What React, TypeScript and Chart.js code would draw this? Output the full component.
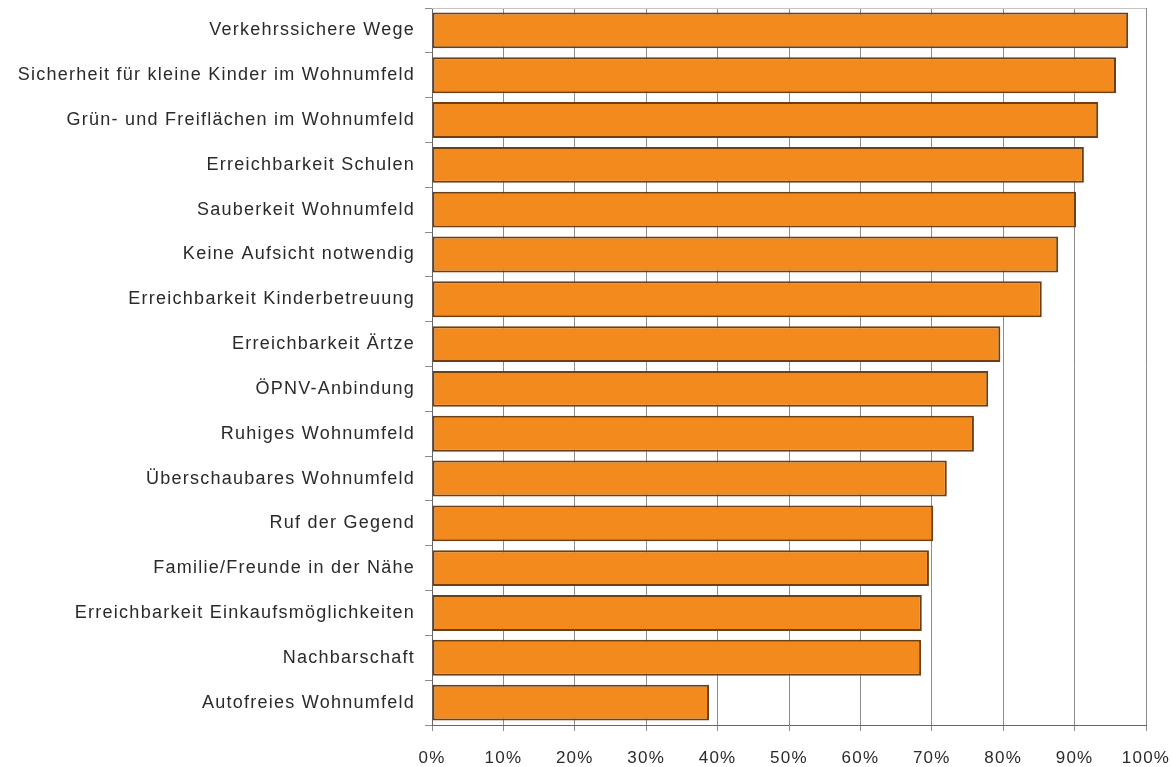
import React, { useEffect, useRef } from "react";
import { Chart, registerables } from "chart.js";

Chart.register(...registerables);

const categories = [
  "Verkehrssichere Wege",
  "Sicherheit für kleine Kinder im Wohnumfeld",
  "Grün- und Freiflächen im Wohnumfeld",
  "Erreichbarkeit Schulen",
  "Sauberkeit Wohnumfeld",
  "Keine Aufsicht notwendig",
  "Erreichbarkeit Kinderbetreuung",
  "Erreichbarkeit Ärtze",
  "ÖPNV-Anbindung",
  "Ruhiges Wohnumfeld",
  "Überschaubares Wohnumfeld",
  "Ruf der Gegend",
  "Familie/Freunde in der Nähe",
  "Erreichbarkeit Einkaufsmöglichkeiten",
  "Nachbarschaft",
  "Autofreies Wohnumfeld",
];

const values = [97.5, 95.8, 93.3, 91.3, 90.2, 87.7, 85.4, 79.6, 77.9, 75.9, 72.1, 70.2, 69.6, 68.6, 68.5, 38.8];

const xTickStep = 10;
const xMin = 0;
const xMax = 100;

const textColor = "#2a2a2a";
const gridColor = "#8c8c8c";

const spacingPlugin = {
  id: "spacing",
  beforeDraw(chart: any) {
    (chart.ctx as any).letterSpacing = "1.25px";
  },
  afterDraw(chart: any) {
    const { ctx, chartArea } = chart;
    ctx.save();
    ctx.strokeStyle = "#c4c4c4";
    ctx.lineWidth = 1;
    ctx.beginPath();
    ctx.moveTo(chartArea.left, chartArea.top + 0.5);
    ctx.lineTo(chartArea.right, chartArea.top + 0.5);
    ctx.stroke();
    ctx.restore();
  },
};

export default function App() {
  const ref = useRef<HTMLCanvasElement | null>(null);

  useEffect(() => {
    document.body.style.margin = "0";
    const canvas = ref.current;
    if (!canvas) return;
    const chart = new Chart(canvas, {
      type: "bar",
      data: {
        labels: categories,
        datasets: [
          {
            data: values,
            backgroundColor: "#F38A1D",
            borderColor: "#6e3f14",
            borderWidth: 2,
            borderSkipped: false,
            barPercentage: 0.8,
            categoryPercentage: 1,
          },
        ],
      },
      options: {
        indexAxis: "y",
        animation: false,
        responsive: false,
        maintainAspectRatio: false,
        devicePixelRatio: 1,
        layout: { padding: { top: 8, right: 26, bottom: 0, left: 0 } },
        plugins: {
          legend: { display: false },
          tooltip: { enabled: false },
        },
        scales: {
          x: {
            min: xMin,
            max: xMax,
            ticks: {
              stepSize: xTickStep,
              callback: (v: any) => v + "%",
              font: { family: "'Liberation Sans', Arial, sans-serif", size: 17 },
              color: textColor,
              padding: 17,
              maxRotation: 0,
            },
            grid: { color: gridColor, lineWidth: 1, tickLength: 6 },
            border: { display: true, color: "#666" },
            afterFit: (s: any) => {
              s.height = 42;
              s.paddingLeft = 0;
              s.paddingRight = 0;
            },
          },
          y: {
            ticks: {
              font: { family: "'Liberation Sans', Arial, sans-serif", size: 18 },
              color: textColor,
              padding: 10,
              autoSkip: false,
            },
            grid: { color: gridColor, drawOnChartArea: false, tickLength: 7, offset: true },
            border: { display: true, color: "#666" },
            afterFit: (s: any) => {
              s.width = 432;
              s.paddingTop = 0;
              s.paddingBottom = 0;
            },
          },
        },
      },
      plugins: [spacingPlugin],
    } as any);
    return () => chart.destroy();
  }, []);

  return (
    <div style={{ position: "absolute", left: 0, top: 0, width: 1172, height: 767, background: "#fff" }}>
      <canvas ref={ref} width={1172} height={767} style={{ width: 1172, height: 767 }} />
    </div>
  );
}
